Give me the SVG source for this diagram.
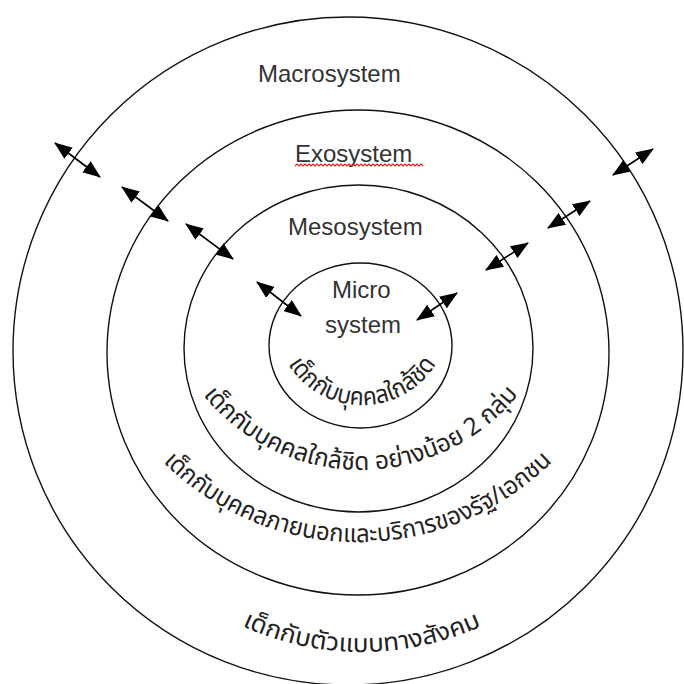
<svg xmlns="http://www.w3.org/2000/svg" width="684" height="684" viewBox="0 0 684 684">
<style>
.ring{fill:none;stroke:#111;stroke-width:1.4}
.lbl{font-family:"Liberation Sans",Arial,sans-serif;font-size:24px;fill:#333}
.th{font-family:"Noto Sans Thai","Tahoma","Loma","Garuda","Noto Sans","DejaVu Sans",sans-serif;font-size:25px;fill:#222}
.arr{stroke:#000;stroke-width:1.6;fill:none;marker-start:url(#ah);marker-end:url(#ah)}
</style>
<defs>
<marker id="ah" viewBox="0 0 18 14" refX="17" refY="7" markerWidth="18" markerHeight="14" markerUnits="userSpaceOnUse" orient="auto-start-reverse">
<path d="M0,0 L18,7 L0,14 z" fill="#000"/>
</marker>
<path id="p1" d="M288,364 A87,87 0 0 0 436,364"/>
<path id="p2" d="M203,395 A203,203 0 0 0 518,395"/>
<path id="p3" d="M163,462 A276,276 0 0 0 552,462"/>
<path id="p4" d="M242,626 A290,290 0 0 0 482,626"/>
</defs>
<rect width="684" height="684" fill="#fff"/>
<g id="macrosystem">
<ellipse class="ring" cx="348" cy="351" rx="335" ry="334"/>
<text class="lbl" x="258" y="82">Macrosystem</text>
<text class="th"><textPath href="#p4" textLength="247" lengthAdjust="spacingAndGlyphs">เด็กกับตัวแบบทางสังคม</textPath></text>
</g>
<g id="exosystem">
<ellipse class="ring" cx="358" cy="352.5" rx="251" ry="242.5"/>
<text class="lbl" x="295" y="162">Exosystem</text>
<path d="M295,166 l2,-2 2,2 2,-2 2,2 2,-2 2,2 2,-2 2,2 2,-2 2,2 2,-2 2,2 2,-2 2,2 2,-2 2,2 2,-2 2,2 2,-2 2,2 2,-2 2,2 2,-2 2,2 2,-2 2,2 2,-2 2,2 2,-2 2,2 2,-2 2,2 2,-2 2,2 2,-2 2,2 2,-2 2,2 2,-2 2,2 2,-2 2,2 2,-2 2,2 2,-2 2,2 2,-2 2,2 2,-2 2,2 2,-2 2,2 2,-2 2,2 2,-2 2,2 2,-2 2,2 2,-2 2,2 2,-2 2,2 2,-2 2,2" fill="none" stroke="#e02020" stroke-width="1.2"/>
<text class="th"><textPath href="#p3" textLength="432" lengthAdjust="spacingAndGlyphs">เด็กกับบุคคลภายนอกและบริการของรัฐ/เอกชน</textPath></text>
</g>
<g id="mesosystem">
<ellipse class="ring" cx="358.5" cy="348.5" rx="174.5" ry="163.5"/>
<text class="lbl" x="288" y="235">Mesosystem</text>
<text class="th"><textPath href="#p2" textLength="361" lengthAdjust="spacingAndGlyphs">เด็กกับบุคคลใกล้ชิด อย่างน้อย 2 กลุ่ม</textPath></text>
</g>
<g id="microsystem">
<ellipse class="ring" cx="360.5" cy="345.5" rx="91.5" ry="82.5"/>
<text class="lbl" x="332" y="298">Micro</text>
<text class="lbl" x="325" y="333">system</text>
<text class="th"><textPath href="#p1" textLength="177" lengthAdjust="spacingAndGlyphs">เด็กกับบุคคลใกล้ชิด</textPath></text>
</g>
<g id="connectors">
<line class="arr" x1="55" y1="143" x2="100" y2="177"/>
<line class="arr" x1="122" y1="187" x2="168" y2="221"/>
<line class="arr" x1="186" y1="224" x2="233" y2="259"/>
<line class="arr" x1="257" y1="282" x2="301" y2="316"/>
<line class="arr" x1="613" y1="175" x2="653" y2="149"/>
<line class="arr" x1="548" y1="228" x2="590" y2="201"/>
<line class="arr" x1="486" y1="270" x2="528" y2="243"/>
<line class="arr" x1="417" y1="320" x2="457" y2="293"/>
</g>
</svg>
